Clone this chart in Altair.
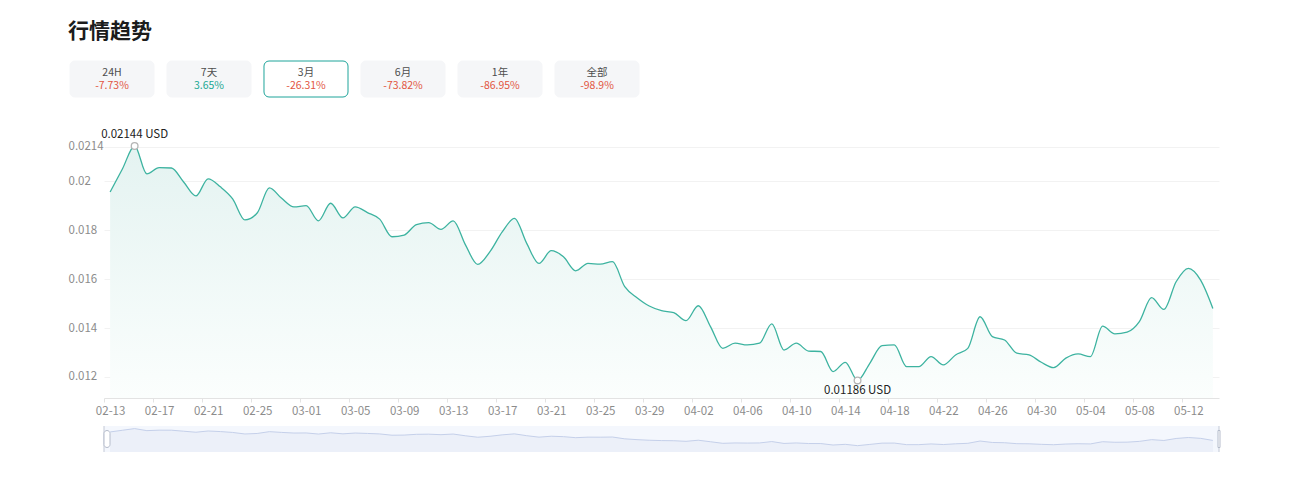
import altair as alt
import pandas as pd

# ---------------- data ----------------
start_date = "2025-02-13"
prices = [
    0.01956, 0.0205, 0.02144, 0.0203, 0.02056, 0.02054, 0.01997, 0.0194, 0.0201, 0.01977,
    0.01928, 0.01842, 0.0187, 0.01973, 0.0193, 0.01895, 0.0190, 0.01838, 0.0191, 0.0185,
    0.01895, 0.01872, 0.01845, 0.01773, 0.0178, 0.01823, 0.01831, 0.01803, 0.01838, 0.0174,
    0.0166, 0.01712, 0.01793, 0.01848, 0.01746, 0.01664, 0.01716, 0.01691, 0.01634, 0.01664,
    0.01661, 0.01671, 0.01569, 0.01524, 0.0149, 0.01471, 0.01463, 0.0143, 0.01491, 0.01406,
    0.01317, 0.01338, 0.01331, 0.01338, 0.01417, 0.0131, 0.01338, 0.01306, 0.01304, 0.01222,
    0.0126, 0.01186, 0.01256, 0.01328, 0.01331, 0.01242, 0.01242, 0.01283, 0.01249, 0.0129,
    0.01317, 0.01446, 0.01365, 0.01351, 0.01297, 0.0129, 0.0126, 0.01238, 0.01277, 0.01294,
    0.01283, 0.01408, 0.01376, 0.01383, 0.01426, 0.01524, 0.01476, 0.01589, 0.01644, 0.01596,
    0.0148,
]
dates = pd.date_range(start_date, periods=len(prices), freq="D")

y_ticks = [0.012, 0.014, 0.016, 0.018, 0.02, 0.0214]
y_domain = [0.01114, 0.02144]
x_tick_dates = pd.date_range(start_date, "2025-05-12", freq="4D")

button_labels = ["24H", "7天", "3月", "6月", "1年", "全部"]
button_changes = ["-7.73%", "3.65%", "-26.31%", "-73.82%", "-86.95%", "-98.9%"]
selected_button = "3月"

slider_y_domain = [0.0083, 0.0229]

FONT = "Noto Sans CJK SC"
TEAL = "#3db3a0"
RED = "#e2553f"
GREEN = "#22a893"

df = pd.DataFrame({"date": dates, "price": prices})

imax = prices.index(max(prices))
imin = prices.index(min(prices))
df_max = pd.DataFrame({"date": [dates[imax]], "price": [prices[imax]],
                       "label": [f"{prices[imax]} USD"]})
df_min = pd.DataFrame({"date": [dates[imin]], "price": [prices[imin]],
                       "label": [f"{prices[imin]} USD"]})

def dt(ts, hours=0):
    return alt.DateTime(year=ts.year, month=ts.month, date=ts.day, hours=hours)

x_dom = [dt(dates[0] - pd.Timedelta(days=1), 12), dt(dates[-1], 12)]

x_enc = alt.X(
    "date:T",
    scale=alt.Scale(domain=x_dom),
    axis=alt.Axis(
        values=[dt(d) for d in x_tick_dates],
        format="%m-%d",
        title=None,
        grid=False,
        labelColor="#8c8c8c",
        labelFontSize=11.5,
        labelFont=FONT,
        labelPadding=3,
        tickSize=4,
        tickColor="#e3e3e3",
        domainColor="#e3e3e3",
        tickOffset=-6,
        labelOffset=6,
        labelFlush=False,
        labelOverlap=False,
    ),
)
y_enc = alt.Y(
    "price:Q",
    scale=alt.Scale(domain=y_domain, nice=False, zero=False),
    axis=alt.Axis(
        values=y_ticks,
        labelExpr="format(datum.value, '.6~g')",
        title=None,
        domain=False,
        ticks=False,
        tickSize=0,
        labelAlign="left",
        labelPadding=36,
        labelColor="#8c8c8c",
        labelFontSize=11.5,
        labelFont=FONT,
        gridColor="#f2f2f2",
        labelFlush=False,
    ),
)

area = alt.Chart(df).mark_area(
    interpolate="monotone",
    color=alt.Gradient(
        gradient="linear",
        stops=[alt.GradientStop(color="#e4f3f1", offset=0),
               alt.GradientStop(color="#fbfefd", offset=1)],
        x1=0, x2=0, y1=0, y2=1,
    ),
).encode(x=x_enc, y=y_enc, y2=alt.datum(y_domain[0]))

line = alt.Chart(df).mark_line(
    interpolate="monotone", color=TEAL, strokeWidth=1.3
).encode(x=x_enc, y=y_enc)

pt_max = alt.Chart(df_max).mark_point(
    shape="circle", size=45, filled=True, fill="white", stroke="#b5b5b5", strokeWidth=1.3, opacity=1
).encode(x=x_enc, y=y_enc)
pt_min = alt.Chart(df_min).mark_point(
    shape="circle", size=45, filled=True, fill="white", stroke="#b5b5b5", strokeWidth=1.3, opacity=1
).encode(x=x_enc, y=y_enc)

txt_max = alt.Chart(df_max).mark_text(
    dy=-11, fontSize=11.5, color="#222222", font=FONT
).encode(x=x_enc, y=y_enc, text="label:N")
txt_min = alt.Chart(df_min).mark_text(
    dy=11, fontSize=11.5, color="#222222", font=FONT
).encode(x=x_enc, y=y_enc, text="label:N")

main = alt.layer(area, line, pt_max, pt_min, txt_max, txt_min).properties(
    width=1115, height=252
)

# ---------------- slider (data zoom) ----------------
sx = alt.X("date:T", scale=alt.Scale(domain=x_dom), axis=None)
sy = alt.Y("price:Q", scale=alt.Scale(domain=slider_y_domain, nice=False, zero=False), axis=None)

s_area = alt.Chart(df).mark_area(color="#d2dbee", opacity=0.25).encode(
    x=sx, y=sy, y2=alt.datum(slider_y_domain[0])
)
s_line = alt.Chart(df).mark_line(color="#c5d0ea", strokeWidth=1).encode(x=sx, y=sy)

df_handles = pd.DataFrame({"date": [dates[0] - pd.Timedelta(hours=12),
                                    dates[-1] + pd.Timedelta(hours=12)]})
s_rules = alt.Chart(df_handles).mark_rule(color="#c3c9d6", strokeWidth=1).encode(x=sx)
s_left = alt.Chart(df_handles.iloc[[0]]).mark_tick(
    orient="vertical", thickness=6, size=17, cornerRadius=3,
    fill="white", stroke="#b5bccb", strokeWidth=1, opacity=1, xOffset=3,
).encode(x=sx)
s_right = alt.Chart(df_handles.iloc[[1]]).mark_tick(
    orient="vertical", thickness=2, size=17,
    fill="white", stroke="#b5bccb", strokeWidth=1, opacity=1,
).encode(x=sx)

slider = alt.layer(s_area, s_line, s_rules, s_left, s_right).properties(
    width=1115, height=26,
    view=alt.ViewBackground(fill="#f4f7fd", stroke=None),
)

# ---------------- period buttons ----------------
df_btn = pd.DataFrame({"key": button_labels, "change": button_changes})
# band range starts left of the plot origin so the buttons line up under the title
bx = alt.X("key:N", sort=button_labels,
           scale=alt.Scale(range=[-34, 535], paddingInner=0.134, paddingOuter=0), axis=None)

b_rect = alt.Chart(df_btn).mark_rect(cornerRadius=5, strokeWidth=1).encode(
    x=bx,
    fill=alt.condition(alt.datum.key == selected_button, alt.value("#ffffff"), alt.value("#f5f6f8")),
    stroke=alt.condition(alt.datum.key == selected_button, alt.value("#1ea49a"), alt.value("#f5f6f8")),
)
b_label = alt.Chart(df_btn).mark_text(dy=-6.5, fontSize=10.5, color="#4d4d4d", font=FONT).encode(
    x=bx, text="key:N"
)
b_change = alt.Chart(df_btn).mark_text(dy=7, fontSize=10.5, font=FONT).encode(
    x=bx,
    text="change:N",
    color=alt.condition("indexof(datum.change, '-') === 0", alt.value(RED), alt.value(GREEN)),
)
buttons = alt.layer(b_rect, b_label, b_change).properties(width=535, height=36)

inner = alt.vconcat(main, slider, spacing=8)

chart = alt.vconcat(buttons, inner, spacing=31).properties(
    title=alt.TitleParams(
        text="行情趋势", anchor="start", fontSize=21, fontWeight="bold",
        color="#1c1c1c", font=FONT, offset=19,
    ),
    padding={"left": 60, "top": 12, "right": 10, "bottom": 10},
).configure(font=FONT).configure_view(stroke=None)

chart.save("out.html", embed_options={"renderer": "svg", "actions": False})
